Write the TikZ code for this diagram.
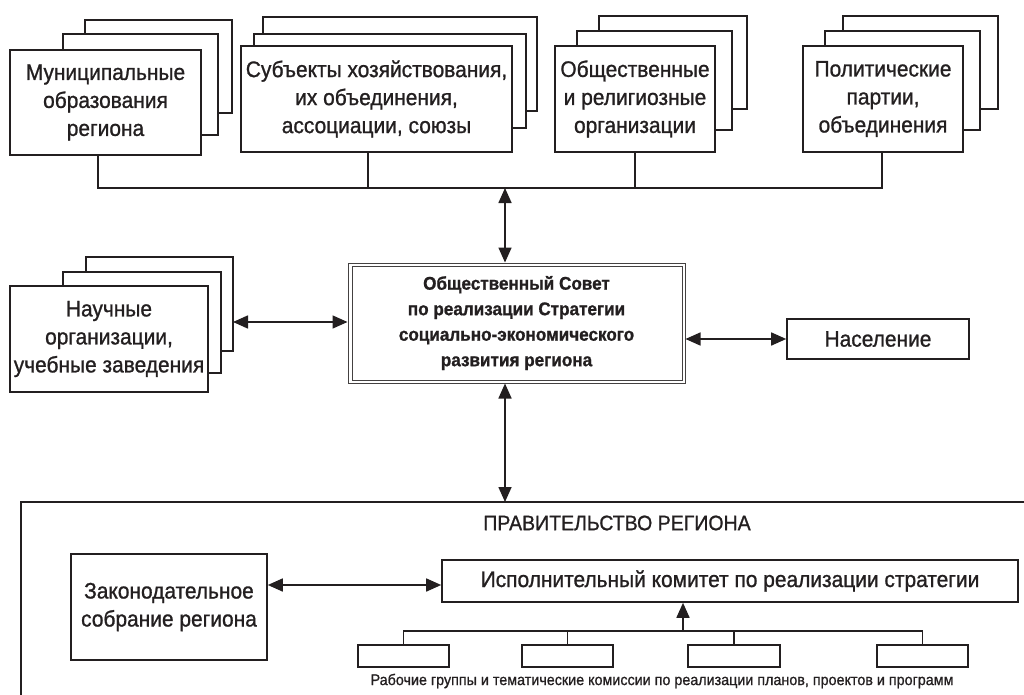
\documentclass[tikz,border=0pt]{standalone}
\usepackage{fontspec}
\setmainfont[FakeStretch=0.93,RawFeature={embolden=1}]{Liberation Sans}
\usetikzlibrary{arrows.meta}
\definecolor{ink}{HTML}{231F20}
\begin{document}
\begin{tikzpicture}[x=1pt,y=-1pt,
 box/.style={draw=ink,line width=1.6pt,fill=white,inner sep=0pt,align=center,text=ink,font=\fontsize{22.5}{28}\selectfont},
 back/.style={draw=ink,line width=1.6pt,fill=white},
 conn/.style={draw=ink,line width=1.6pt},
 arr/.style={draw=ink,line width=1.6pt,{Triangle[length=15pt,width=13pt]}-{Triangle[length=15pt,width=13pt]}},
 arrone/.style={draw=ink,line width=1.6pt,-{Triangle[length=15pt,width=13pt]}},
 small/.style={draw=ink,line width=1.5pt,fill=white,inner sep=0pt,minimum height=22,minimum width=91},
 thinframe/.style={draw=ink!85,line width=1pt},
 ]
\useasboundingbox (0,0) rectangle (1024,695);

% top stacks
\draw[back] (85,20) rectangle (232,113);
\draw[back] (63,34) rectangle (218,135);
\node[box,minimum width=191,minimum height=105] (mun) at (105.5,102.5) {Муниципальные\\образования\\региона};

\draw[back] (263,17) rectangle (537,111);
\draw[back] (254,34) rectangle (526,128);
\node[box,minimum width=271,minimum height=106] (sub) at (376.5,99) {Субъекты хозяйствования,\\их объединения,\\ассоциации, союзы};

\draw[back] (599,16) rectangle (747,109);
\draw[back] (577,31) rectangle (732,130);
\node[box,minimum width=160,minimum height=106] (obs) at (635,99) {Общественные\\и религиозные\\организации};

\draw[back] (843,16) rectangle (998,109);
\draw[back] (825,31) rectangle (980,130);
\node[box,minimum width=160,minimum height=106] (pol) at (883,99) {Политические\\партии,\\объединения};

% bus
\coordinate (b1) at (98,188);
\coordinate (b2) at (368,188);
\coordinate (b3) at (635,188);
\coordinate (b4) at (882,188);
\coordinate (bc) at (505,188);
\draw[conn] (mun.south -| b1) -- (b1) -- (b4) -- (pol.south -| b4);
\draw[conn] (sub.south -| b2) -- (b2);
\draw[conn] (obs.south -| b3) -- (b3);

% council
\node[thinframe,fill=white,inner sep=0pt,
  minimum width=337,minimum height=120,align=center,text=ink,
  font=\fontsize{18.4}{25.5}\selectfont\bfseries] (cou) at (516.5,323)
  {Общественный Совет\\по реализации Стратегии\\социально-экономического\\развития региона};
\draw[thinframe] ([shift={(4.5,4)}]cou.north west) rectangle ([shift={(-3.5,-3.5)}]cou.south east);
\draw[arr] (bc) -- (cou.north -| bc);

% science stack
\draw[back] (86,257) rectangle (233,351);
\draw[back] (63,272) rectangle (221,373);
\node[box,minimum width=198,minimum height=106] (nau) at (109,339) {Научные\\организации,\\учебные заведения};
\coordinate (naue) at (233,322);
\draw[arr] (naue) -- (cou.west |- naue);

% population
\node[box,minimum width=182,minimum height=40] (nas) at (878,339) {Население};
\draw[arr] (cou.east |- nas.west) -- (nas.west);

% government
\draw[draw=ink,line width=2pt] (1024,502) -- (21,502) -- (21,695);
\coordinate (gov) at (505,502);
\draw[arr] (cou.south -| gov) -- (gov);
\node[text=ink,font=\fontsize{21}{24}\selectfont] (govt) at (617,523) {ПРАВИТЕЛЬСТВО РЕГИОНА};

\node[box,minimum width=196,minimum height=106] (zak) at (169,607) {Законодательное\\собрание региона};
\node[box,minimum width=576,minimum height=42] (isp) at (730,581) {Исполнительный комитет по реализации стратегии};
\coordinate (zy) at (0,585);
\draw[arr] (zak.east |- zy) -- (isp.west |- zy);

% working groups
\node[small] (w1) at (403.5,656) {};
\node[small] (w2) at (567.5,656) {};
\node[small,minimum width=92] (w3) at (734,656) {};
\node[small] (w4) at (922.5,656) {};
\coordinate (wb) at (0,631);
\draw[conn] (w1.north) -- (w1.north |- wb) -- (w4.north |- wb) -- (w4.north);
\draw[conn] (w2.north) -- (w2.north |- wb);
\draw[conn] (w3.north) -- (w3.north |- wb);
\coordinate (wa) at (683,631);
\draw[arrone] (wa) -- (isp.south -| wa);
\node[text=ink,font=\fontsize{15.4}{17}\selectfont,inner sep=0pt] (cap) at (662,681) {Рабочие группы и тематические комиссии по реализации планов, проектов и программ};
\end{tikzpicture}
\end{document}
